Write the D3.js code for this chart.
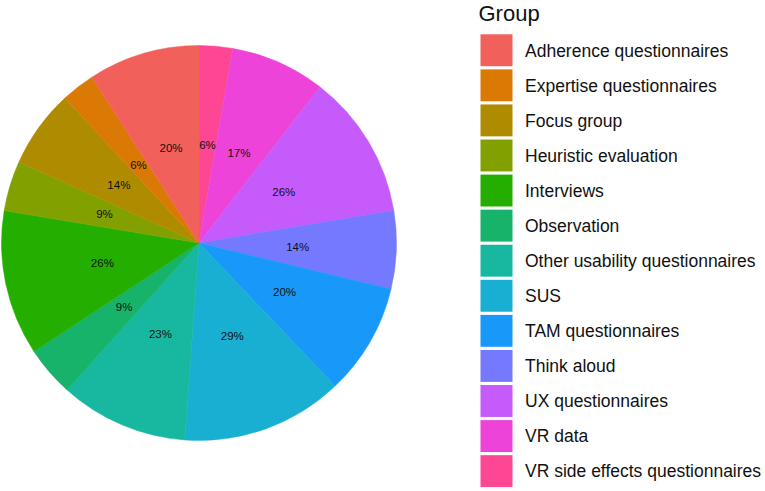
<!DOCTYPE html>
<html>
<head>
<meta charset="utf-8">
<script src="https://cdn.jsdelivr.net/npm/d3@7"></script>
<style>
  body { margin: 0; background: #fff; }
  svg { display: block; font-family: Arial, "Liberation Sans", sans-serif; }
</style>
</head>
<body>
<svg id="chart" width="765" height="491"></svg>
<script>
// legend order (factor levels)
const groups = [
  "Adherence questionnaires", "Expertise questionnaires", "Focus group",
  "Heuristic evaluation", "Interviews", "Observation",
  "Other usability questionnaires", "SUS", "TAM questionnaires",
  "Think aloud", "UX questionnaires", "VR data", "VR side effects questionnaires"
];
const percents = [20, 6, 14, 9, 26, 9, 23, 29, 20, 14, 26, 17, 6];
const colours = [
  "#F2605B", "#DA7A05", "#AF8B00", "#82A000", "#24AF00", "#18B36A",
  "#18B8A0", "#18AFD2", "#1898F9", "#7479FE", "#C55BFB", "#EE43D8", "#FD4694"
];

const svg = d3.select("#chart");
const cx = 199, cy = 243, radius = 197.5;

const data = groups.map((g, i) => ({ group: g, value: percents[i], colour: colours[i] }));

// ggplot stacks so the last level starts at 12 o'clock going clockwise
const pie = d3.pie().sort(null).value(d => d.value);
const arcs = pie(data.slice().reverse());
const arc = d3.arc().innerRadius(0).outerRadius(radius);

const g = svg.append("g").attr("transform", `translate(${cx},${cy})`);

g.selectAll("path.slice")
  .data(arcs)
  .join("path")
  .attr("class", "slice")
  .attr("d", arc)
  .attr("fill", d => d.data.colour)
  .attr("stroke", d => d.data.colour)
  .attr("stroke-width", 0.5);

const labelArc = d3.arc().innerRadius(radius / 2).outerRadius(radius / 2);
g.selectAll("text.pct")
  .data(arcs)
  .join("text")
  .attr("class", "pct")
  .attr("transform", d => `translate(${labelArc.centroid(d)})`)
  .attr("text-anchor", "middle")
  .attr("dy", "0.35em")
  .attr("font-size", 11.5)
  .attr("fill", "#111")
  .text(d => d.data.value + "%");

// legend
const legend = svg.append("g");
legend.append("text")
  .attr("x", 478.5)
  .attr("y", 21)
  .attr("font-size", 22)
  .attr("fill", "#111")
  .text("Group");

const keyY = d3.scaleBand()
  .domain(groups)
  .range([33, 33 + 34.83 * groups.length])
  .paddingInner(0.09);

const items = legend.selectAll("g.item")
  .data(data)
  .join("g")
  .attr("class", "item");

items.append("rect")
  .attr("x", 480.5)
  .attr("y", d => keyY(d.group) + 1.3)
  .attr("width", 32)
  .attr("height", keyY.bandwidth())
  .attr("fill", d => d.colour);

items.append("text")
  .attr("x", 525)
  .attr("y", d => keyY(d.group) + 1.3 + keyY.bandwidth() / 2)
  .attr("dy", "0.36em")
  .attr("font-size", 17.5)
  .attr("fill", "#111")
  .text(d => d.group);
</script>
</body>
</html>
